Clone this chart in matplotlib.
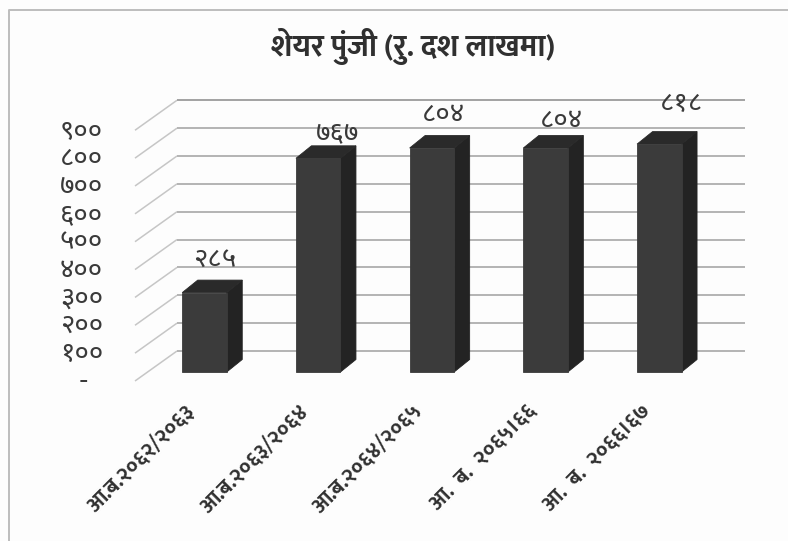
import matplotlib
matplotlib.use("Agg")
import matplotlib.pyplot as plt
from matplotlib.patches import Polygon, Rectangle

plt.rcParams["font.family"] = ["Noto Sans Devanagari", "Mukta", "Hind", "DejaVu Sans"]
BOLD_FAMILY = ["Mukta", "Hind", "Noto Sans Devanagari", "DejaVu Sans"]

title = "शेयर पुंजी (रु. दश लाखमा)"
categories = ["आ.ब.२०६२/२०६३", "आ.ब.२०६३/२०६४", "आ.ब.२०६४/२०६५", "आ.  ब.  २०६५।६६", "आ.  ब.  २०६६।६७"]
values = [285, 767, 804, 804, 818]
value_labels = ["२८५", "७६७", "८०४", "८०४", "८१८"]
ticks = [0, 100, 200, 300, 400, 500, 600, 700, 800, 900]
tick_labels = ["-", "१००", "२००", "३००", "४००", "५००", "६००", "७००", "८००", "९००"]
label_dx = [10.5, 19, 12, 16, 22]    # px right of the bar centre
label_dy = [32, 25, 33, 27, 40]      # px above the bar's front top edge

W, H = 788, 541
PX_X = 113.7     # px per category
PX_Y = 0.2786    # px per unit
X0, Y0 = 204.5, 372   # first bar centre, zero line
PT = 0.72        # points per px at dpi 100

fig = plt.figure(figsize=(W / 100, H / 100), dpi=100, facecolor="#fdfdfd")
ax = fig.add_axes([0, 0, 1, 1])
ax.set_xlim(-X0 / PX_X, (W - X0) / PX_X)
ax.set_ylim((Y0 - H) / PX_Y, Y0 / PX_Y)
ax.axis("off")

bar_w = 44.5 / PX_X
dx, dy = 15.5 / PX_X, 12.5 / PX_Y       # depth of the bars
wall_dx, wall_dy = 42 / PX_X, 30 / PX_Y  # depth of the back wall
left = (135 - X0) / PX_X
right = (745 - X0) / PX_X
zero_offset = -9 / PX_Y

# gridlines: slanted piece on the side wall, then along the back wall
for t in ticks:
    y = t + zero_offset
    c = "#a2a2a2" if t == ticks[-1] else "#b4b4b4"
    ax.plot([left, left + wall_dx], [y, y + wall_dy], color="#c6c6c6", lw=1.1,
            solid_capstyle="butt", zorder=1)
    ax.plot([left + wall_dx, right], [y + wall_dy, y + wall_dy], color=c, lw=1.4,
            solid_capstyle="butt", zorder=1)

for i, v in enumerate(values):
    x0, x1 = i - bar_w / 2, i + bar_w / 2
    ax.add_patch(Polygon([(x1, 0), (x1 + dx, dy), (x1 + dx, v + dy), (x1, v)],
                         fc="#232323", ec="#232323", lw=0.6, zorder=3))
    ax.add_patch(Polygon([(x0, v), (x0 + dx, v + dy), (x1 + dx, v + dy), (x1, v)],
                         fc="#2a2a2a", ec="#2a2a2a", lw=0.6, zorder=3))
    ax.add_patch(Rectangle((x0, 0), bar_w, v, fc="#3b3b3b", ec="#3b3b3b", lw=0.6, zorder=3))
    ax.annotate(value_labels[i], (i, v), xytext=(label_dx[i] * PT, label_dy[i] * PT),
                textcoords="offset points", ha="center", va="center",
                fontsize=20, color="#3a3a3a", zorder=4)
    ax.annotate(categories[i], (i - 12 / PX_X, 0), xytext=(0, -36 * PT), textcoords="offset points",
                rotation=45, ha="right", va="center", rotation_mode="anchor",
                fontsize=15.5, fontweight="bold", family=BOLD_FAMILY, color="#303030")

for t, lab in zip(ticks, tick_labels):
    # the zero dash sits further left than the numbers
    shift = -15 * PT if t == 0 else 0
    ax.annotate(lab, ((103 - X0) / PX_X, t), xytext=(shift, -10 * PT), textcoords="offset points",
                ha="right", va="center", fontsize=20, color="#3a3a3a")

ax.text(413 / W, 1 - 46 / H, title, transform=ax.transAxes, ha="center", va="center",
        fontsize=22, fontweight="bold", family=BOLD_FAMILY, color="#303030")

# chart frame
ax.plot([8.5 / W, 8.5 / W, 1], [0, 1 - 10 / H, 1 - 10 / H], transform=ax.transAxes,
        color="#bdbdbd", lw=1.4, zorder=0)

fig.savefig("out.png", dpi=100, facecolor=fig.get_facecolor())
